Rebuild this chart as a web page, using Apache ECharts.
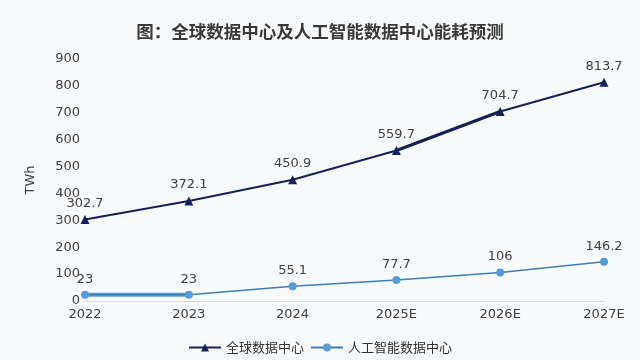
<!DOCTYPE html>
<html><head><meta charset="utf-8">
<script src="https://cdn.jsdelivr.net/npm/echarts@6/dist/echarts.min.js"></script>
<style>html,body{margin:0;padding:0;background:#f9fafc;}#c{width:640px;height:360px;}</style>
</head><body><div id="c"></div>
<script>
const categories = ['2022','2023','2024','2025E','2026E','2027E'];
const globalDC = [302.7, 372.1, 450.9, 559.7, 704.7, 813.7];
const aiDC = [23, 23, 55.1, 77.7, 106, 146.2];
const seriesNames = ['全球数据中心', '人工智能数据中心'];
const titleText = '图：全球数据中心及人工智能数据中心能耗预测';

const font = '"DejaVu Sans", sans-serif';
const cjk = '"Noto Sans CJK SC", "DejaVu Sans", sans-serif';
const navy = '#16215a';
const blue = '#5b9bd5';

// thicker segments seen in the reference
const globalThick = globalDC.map((v, i) => (i === 3 || i === 4) ? v : null);
const aiThick = aiDC.map((v, i) => (i === 0 || i === 1) ? v : null);

const chart = echarts.init(document.getElementById('c'));
chart.setOption({
  backgroundColor: '#f9fafc',
  animation: false,
  title: {
    text: titleText, left: 'center', top: 18,
    textStyle: { fontFamily: cjk, fontSize: 17.5, fontWeight: 'bold', color: '#3a3a3a' }
  },
  legend: {
    data: seriesNames, bottom: 1, left: 'center', itemWidth: 32, itemHeight: 10, itemGap: 6,
    textStyle: { fontFamily: cjk, fontSize: 13, color: '#333' }
  },
  grid: { left: 85, right: 36, top: 59, bottom: 59 },
  xAxis: {
    type: 'category', data: categories, boundaryGap: false,
    axisLine: { lineStyle: { color: '#d9d9d9' } },
    axisTick: { show: false },
    axisLabel: { fontFamily: font, fontSize: 13, color: '#404040', margin: 7 }
  },
  yAxis: {
    type: 'value', min: 0, max: 900, interval: 100,
    name: 'TWh', nameLocation: 'middle', nameGap: 48, nameRotate: 90,
    nameTextStyle: { fontFamily: font, fontSize: 13, color: '#404040' },
    splitLine: { show: false }, axisLine: { show: false }, axisTick: { show: false },
    axisLabel: { fontFamily: font, fontSize: 13, color: '#404040', margin: 5 }
  },
  series: [
    {
      name: seriesNames[0], type: 'line', data: globalDC,
      symbol: 'triangle', symbolSize: 9, color: navy,
      lineStyle: { color: navy, width: 2 },
      itemStyle: { color: navy },
      label: { show: true, position: 'top', distance: 5, fontFamily: font, fontSize: 13, color: '#404040' }
    },
    {
      name: seriesNames[1], type: 'line', data: aiDC,
      symbol: 'circle', symbolSize: 8, color: blue,
      lineStyle: { color: '#3f7fb8', width: 1.5 },
      itemStyle: { color: blue },
      label: { show: true, position: 'top', distance: 5, fontFamily: font, fontSize: 13, color: '#404040' }
    },
    {
      name: 'g-thick', type: 'line', data: globalThick, symbol: 'none', silent: true,
      lineStyle: { color: navy, width: 3 }, z: 1
    },
    {
      name: 'a-thick', type: 'line', data: aiThick, symbol: 'none', silent: true,
      lineStyle: { color: blue, width: 4 }, z: 1
    }
  ]
});
</script></body></html>
